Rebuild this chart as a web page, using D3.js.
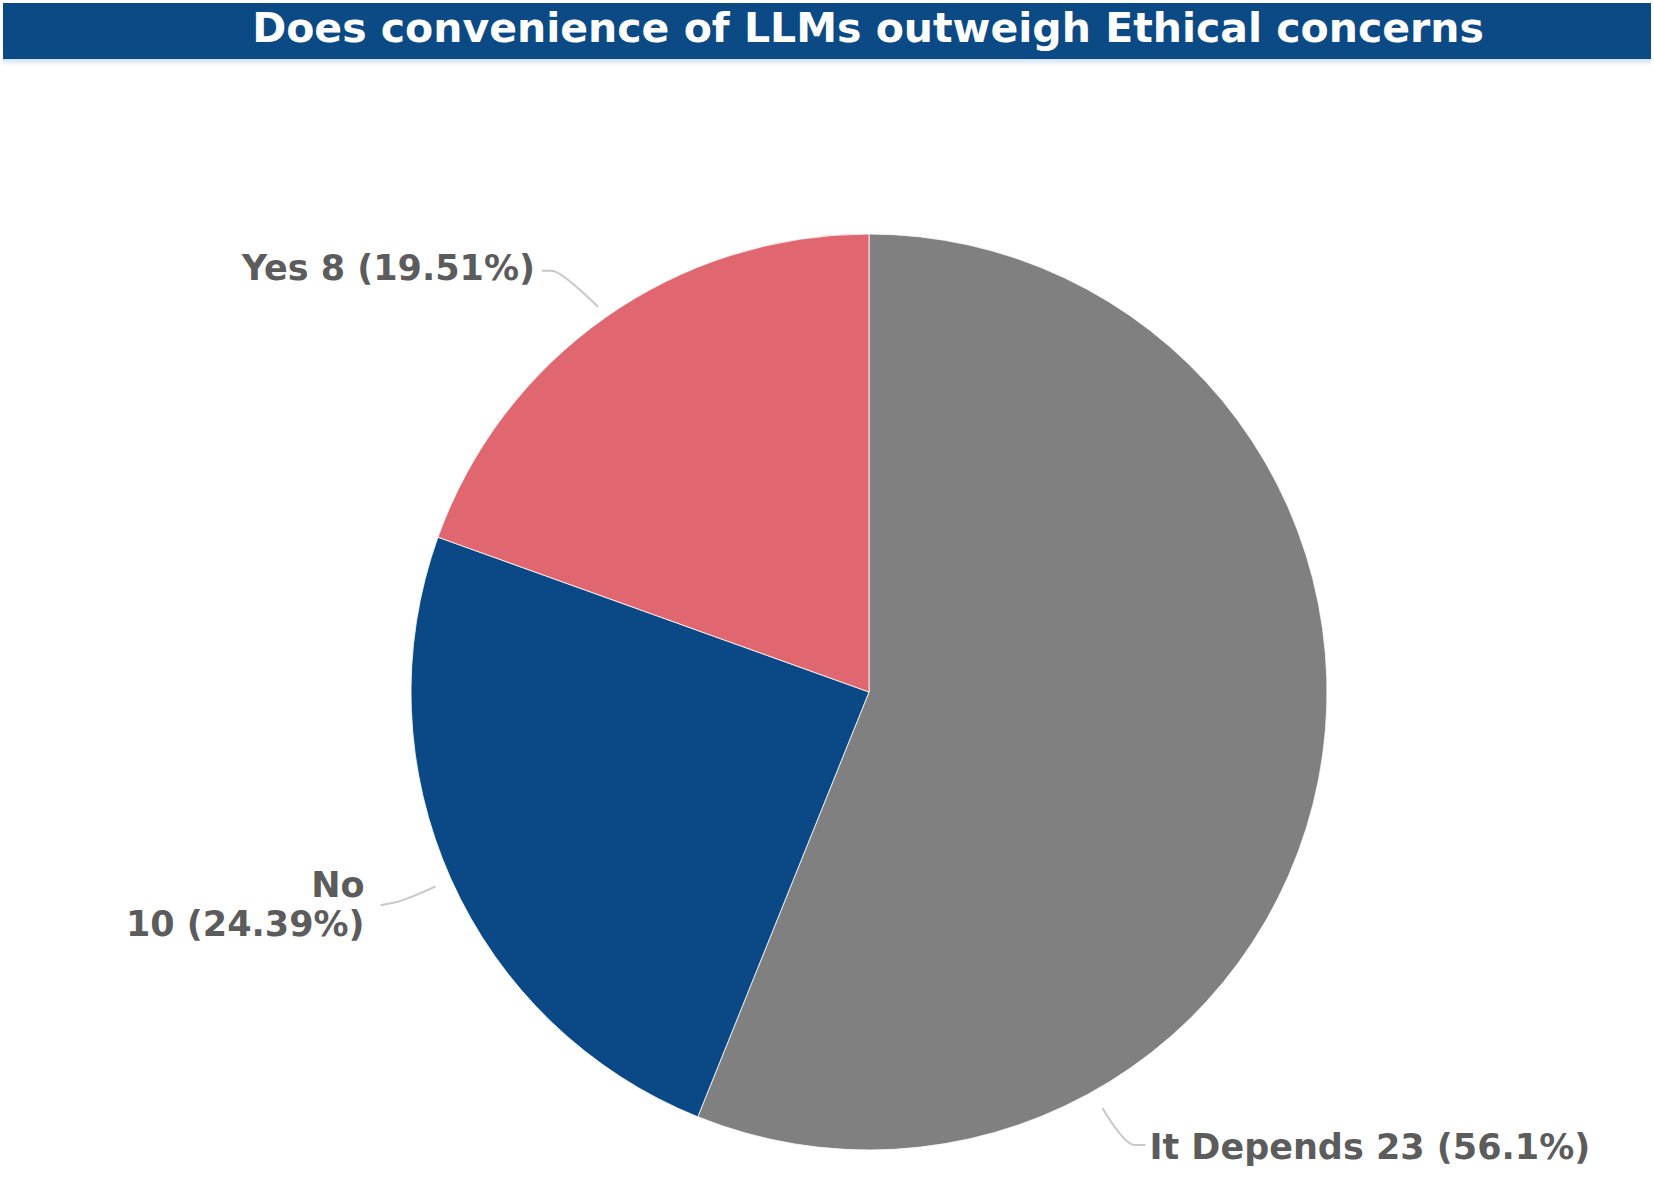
<!DOCTYPE html>
<html>
<head>
<meta charset="utf-8">
<script src="https://cdn.jsdelivr.net/npm/d3@7"></script>
<style>
  html, body { margin: 0; padding: 0; background: #ffffff; }
  svg { display: block; }
</style>
</head>
<body>
<svg id="chart" width="1654" height="1177"></svg>
<script>
// ---- data ----
const title = "Does convenience of LLMs outweigh Ethical concerns";
const categories = ["It Depends", "No", "Yes"];
const counts = [23, 10, 8];
const colors = ["#808080", "#0b4886", "#e0666f"];

// ---- layout ----
const W = 1654, H = 1177;
const cx = 869, cy = 692, R = 458;
const svg = d3.select("#chart");

// title bar
const defs = svg.append("defs");
const grad = defs.append("linearGradient").attr("id", "shadow").attr("x1", 0).attr("x2", 0).attr("y1", 0).attr("y2", 1);
grad.append("stop").attr("offset", "0%").attr("stop-color", "#c9def0");
grad.append("stop").attr("offset", "100%").attr("stop-color", "#ffffff");
svg.append("rect").attr("x", 3).attr("y", 58).attr("width", 1648).attr("height", 8).attr("fill", "url(#shadow)");
svg.append("rect").attr("x", 3).attr("y", 3).attr("width", 1648).attr("height", 56).attr("fill", "#0b4a85");
svg.append("text")
  .attr("x", 868).attr("y", 42)
  .attr("text-anchor", "middle")
  .attr("font-family", "DejaVu Sans, Verdana, sans-serif")
  .attr("font-weight", "bold")
  .attr("font-size", 41)
  .attr("fill", "#ffffff")
  .text(title);

// pie
const total = d3.sum(counts);
const data = categories.map((c, i) => ({ name: c, value: counts[i], color: colors[i] }));
const pie = d3.pie().value(d => d.value).sort(null).startAngle(0).endAngle(2 * Math.PI);
const arcs = pie(data);
const arc = d3.arc().innerRadius(0).outerRadius(R);

const g = svg.append("g").attr("transform", `translate(${cx},${cy})`);
g.selectAll("path.slice").data(arcs).enter().append("path")
  .attr("class", "slice")
  .attr("d", arc)
  .attr("fill", d => d.data.color)
  .attr("stroke", "#ffffff")
  .attr("stroke-width", 0.8);

// labels
const pct = v => +(v / total * 100).toFixed(2) + "%";
function polar(r, a) { return [r * Math.sin(a), -r * Math.cos(a)]; }

// per-label layout: angle override (null = slice mid angle), leader offsets, text lines
const labelLayout = {
  "It Depends": { angle: 150.7 * Math.PI / 180, rOff: 19, elbow: [22, 37], end: [43, 37], anchor: "start", tx: 47, ty: 51, split: false },
  "No":         { angle: null, rOff: 17, elbow: [-30, 14], end: [-55, 19], anchor: "end", tx: -71, ty: 11, split: true },
  "Yes":        { angle: null, rOff: 13, elbow: [-37, -36], end: [-56, -36], anchor: "end", tx: -63, ty: -27, split: false }
};

const lg = svg.append("g").attr("transform", `translate(${cx},${cy})`);
arcs.forEach(d => {
  const L = labelLayout[d.data.name];
  const a = L.angle === null ? (d.startAngle + d.endAngle) / 2 : L.angle;
  const p0 = polar(R + L.rOff, a);
  const p1 = [p0[0] + L.elbow[0], p0[1] + L.elbow[1]];
  const p2 = [p0[0] + L.end[0], p0[1] + L.end[1]];
  lg.append("path")
    .attr("d", `M${p0[0]},${p0[1]} Q${p1[0]},${p1[1]} ${(p1[0] + p2[0]) / 2},${(p1[1] + p2[1]) / 2} L${p2[0]},${p2[1]}`)
    .attr("fill", "none")
    .attr("stroke", "#c8c8c8")
    .attr("stroke-width", 2);
  const t = lg.append("text")
    .attr("x", p0[0] + L.tx).attr("y", p0[1] + L.ty)
    .attr("text-anchor", L.anchor)
    .attr("font-family", "DejaVu Sans, Verdana, sans-serif")
    .attr("font-weight", "bold")
    .attr("font-size", 35)
    .attr("fill", "#5c5c5c");
  const valTxt = `${d.data.value} (${pct(d.data.value)})`;
  if (L.split) {
    t.append("tspan").attr("x", p0[0] + L.tx).attr("dy", 0).text(d.data.name);
    t.append("tspan").attr("x", p0[0] + L.tx).attr("dy", 39).text(valTxt);
  } else {
    t.text(`${d.data.name} ${valTxt}`);
  }
});
</script>
</body>
</html>
